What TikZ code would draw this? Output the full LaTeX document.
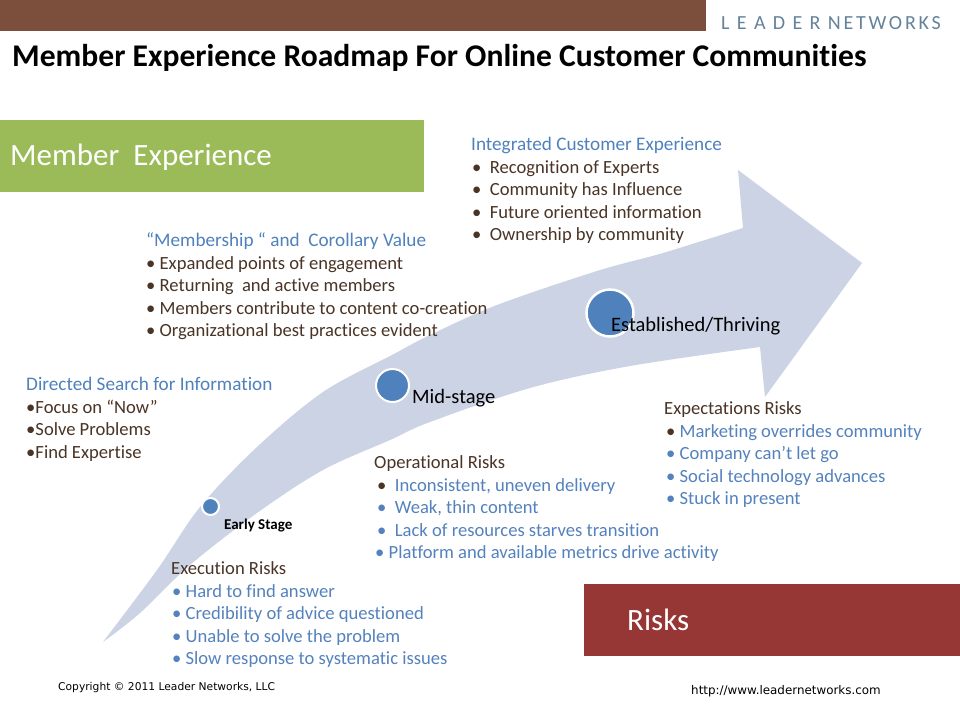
\documentclass[tikz,border=0pt]{standalone}
\usepackage{fontspec}
\setmainfont{Carlito}[Ligatures={NoCommon,NoContextual}]
\newfontfamily\vfont{DejaVu Sans}
\newfontfamily\logofont[LetterSpace=14,Ligatures={NoCommon}]{Carlito}
\definecolor{barbrown}{RGB}{123,79,59}
\definecolor{megreen}{RGB}{155,187,89}
\definecolor{riskred}{RGB}{150,55,53}
\definecolor{arrowfill}{RGB}{203,211,228}
\definecolor{dotblue}{RGB}{79,129,189}
\definecolor{headblue}{RGB}{79,129,189}
\definecolor{txtbrown}{RGB}{74,52,38}
\definecolor{riskblue}{RGB}{84,130,190}
\definecolor{logoblue}{RGB}{100,130,155}
\tikzset{
  txt/.style={anchor=base west, inner sep=0pt, font=\fontsize{18.6}{22}\selectfont},
  head/.style={txt, text=headblue, font=\fontsize{19.2}{22}\selectfont},
  item/.style={txt, text=txtbrown},
  rhead/.style={txt, text=txtbrown},
  ritem/.style={txt, text=riskblue},
  dot/.style={circle, fill=dotblue, draw=white, line width=2pt, inner sep=0pt},
  stagelbl/.style={anchor=base west, inner sep=0pt, text=black, font=\fontsize{20.5}{24}\selectfont},
  boxlbl/.style={anchor=base west, inner sep=0pt, text=white, font=\fontsize{31}{36}\selectfont},
}
\begin{document}
\begin{tikzpicture}[x=1pt,y=-1pt]
\useasboundingbox (0,0) rectangle (960,720);
\fill[white] (0,0) rectangle (960,720);
% top bar
\fill[barbrown] (0,0) rectangle (706,31);
\node[anchor=base west, inner sep=0pt, text=logoblue, font=\fontsize{20}{24}\logofont] (logo) at (721,29) {L E A D E R NETWORKS};
% title
\node[anchor=base west, inner sep=0pt, font=\fontsize{31.6}{36}\selectfont\bfseries] (title) at (12,66) {Member Experience Roadmap For Online Customer Communities};
% green box
\fill[megreen] (0,120) rectangle (424,192);
\node[boxlbl] (melbl) at (10,165) {Member\ \ Experience};
% red box
\fill[riskred] (584,584) rectangle (960,656);
\node[boxlbl] (risklbl) at (627,630) {Risks};
% arrow
\fill[arrowfill] plot[smooth,tension=0.55] coordinates {(103,642) (157,570) (200,507) (257,447) (323,392) (392,355) (430,335) (497,305) (597,271) (663,253) (743,228)}
  -- (738,170) -- (862,263) -- (765,397)
  -- plot[smooth,tension=0.55] coordinates {(760,347) (630,366) (530,388) (430,422) (390,440) (323,470) (257,513) (190,565) (140,613) (103,642)} -- cycle;
% stage dots
\node[dot, minimum size=17pt] (early) at (210.5,506.5) {};
\node[dot, minimum size=33pt] (mid) at (392.5,385.5) {};
\node[dot, minimum size=47pt, line width=2.5pt] (est) at (610,313) {};
\node[anchor=base west, inner sep=0pt, font=\fontsize{15}{17}\selectfont\bfseries] (earlylbl) at (224,529) {Early Stage};
\node[stagelbl] (midlbl) at (412,403) {Mid-stage};
\node[stagelbl] (estlbl) at (611,331) {Established/Thriving};
% Directed search
\node[head] (d0) at (26,390) {Directed Search for Information};
\node[item] (d1) at (26,413) {•Focus on “Now”};
\node[item] (d2) at (26,435) {•Solve Problems};
\node[item] (d3) at (26,458) {•Find Expertise};
% Membership
\node[head] (m0) at (146,246) {“Membership “ and\ \ Corollary Value};
\node[item] (m1) at (146,269) {• Expanded points of engagement};
\node[item] (m2) at (146,291) {• Returning\ \ and active members};
\node[item] (m3) at (146,314) {• Members contribute to content co-creation};
\node[item] (m4) at (146,336) {• Organizational best practices evident};
% Integrated
\node[head] (i0) at (471,150) {Integrated Customer Experience};
\node[item] (i1) at (472,173) {•\ \ Recognition of Experts};
\node[item] (i2) at (472,195) {•\ \ Community has Influence};
\node[item] (i3) at (472,218) {•\ \ Future oriented information};
\node[item] (i4) at (472,240) {•\ \ Ownership by community};
% Expectations risks
\node[rhead] (e0) at (664,414) {Expectations Risks};
\node[ritem] (e1) at (666,437) {\textcolor{txtbrown}{•} Marketing overrides community};
\node[ritem] (e2) at (666,459) {• Company can’t let go};
\node[ritem] (e3) at (666,482) {• Social technology advances};
\node[ritem] (e4) at (666,504) {• Stuck in present};
% Operational risks
\node[rhead] (o0) at (374,468) {Operational Risks};
\node[ritem] (o1) at (377,491) {\textcolor{txtbrown}{•}\ \ Inconsistent, uneven delivery};
\node[ritem] (o2) at (377,513) {•\ \ Weak, thin content};
\node[ritem] (o3) at (377,536) {•\ \ Lack of resources starves transition};
\node[ritem] (o4) at (375,558) {• Platform and available metrics drive activity};
% Execution risks
\node[rhead] (x0) at (171,574) {Execution Risks};
\node[ritem] (x1) at (172,597) {• Hard to find answer};
\node[ritem] (x2) at (172,619) {• Credibility of advice questioned};
\node[ritem] (x3) at (172,642) {• Unable to solve the problem};
\node[ritem] (x4) at (172,664) {• Slow response to systematic issues};
% footer
\node[anchor=base west, inner sep=0pt, font=\fontsize{10.7}{12}\vfont] (copy) at (58,690) {Copyright © 2011 Leader Networks, LLC};
\node[anchor=base west, inner sep=0pt, font=\fontsize{11.9}{13}\vfont] (url) at (691,694) {http://www.leadernetworks.com};
\end{tikzpicture}
\end{document}
